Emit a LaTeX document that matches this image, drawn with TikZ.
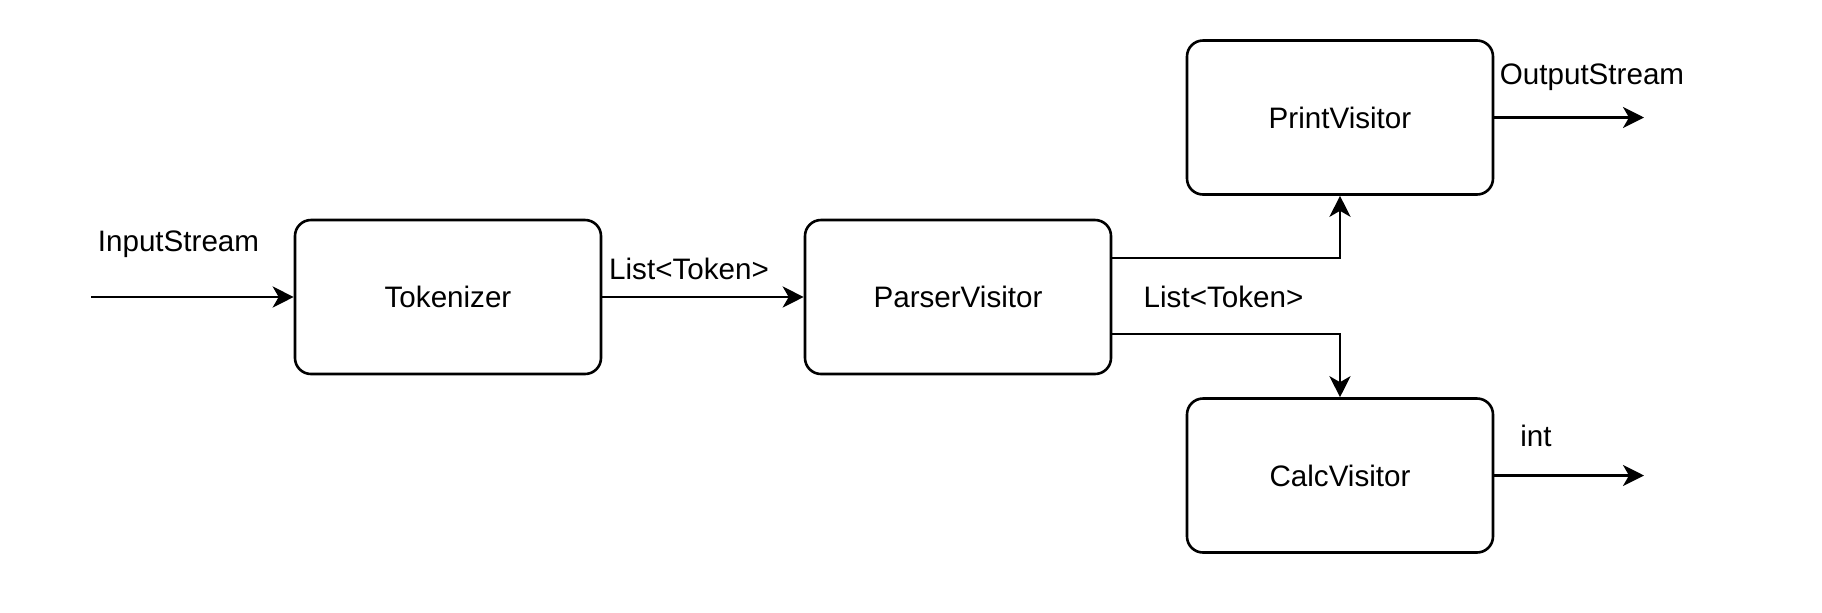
\documentclass[tikz,border=0pt]{standalone}
\usepackage{fontspec}
\setmainfont{Liberation Sans}
\usetikzlibrary{arrows.meta}
\begin{document}
\begin{tikzpicture}[x=0.5pt,y=-0.5pt,
  font=\fontsize{14.8}{18}\selectfont,
  box/.style={draw=black,line width=1.3pt,rounded corners=8pt,minimum width=153pt,minimum height=77pt,inner sep=0pt,fill=white},
  conn/.style={draw=black,line width=1.4pt,-{Stealth[length=10.5pt,width=10.5pt,inset=3pt]}},
  lbl/.style={inner sep=0pt}]
\useasboundingbox[fill=white] (0,0) rectangle (1822,612);
\node[box] (tok) at (448,297) {Tokenizer};
\node[box] (pv) at (958,297) {ParserVisitor};
\node[box] (pr) at (1340,117.5) {PrintVisitor};
\node[box] (ca) at (1340,475.5) {CalcVisitor};
\coordinate (in) at (91,297);
\coordinate (po) at (1644,117.5);
\coordinate (co) at (1644,475.5);
\draw[conn] (in) -- (tok.west);
\draw[conn] (tok.east) -- (pv.west);
\draw[conn] ([yshift=19.5pt]pv.east) -| (pr.south);
\draw[conn] ([yshift=-18.5pt]pv.east) -| (ca.north);
\draw[conn] (pr.east) -- (po);
\draw[conn] (ca.east) -- (co);
\node[lbl] (l1) at (178.5,244) {InputStream};
\node[lbl] (l2) at (689,269) {List<Token>};
\node[lbl] (l3) at (1223.5,297) {List<Token>};
\node[lbl] (l4) at (1592,77) {OutputStream};
\node[lbl] (l5) at (1536,436) {int};
\end{tikzpicture}
\end{document}
